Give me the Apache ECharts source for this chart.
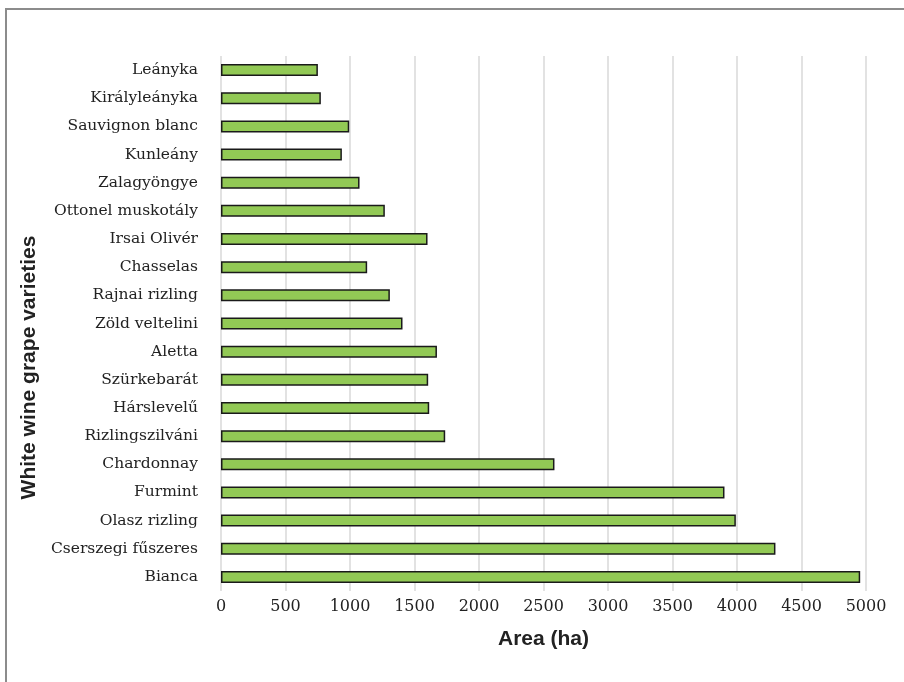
<!DOCTYPE html>
<html>
<head>
<meta charset="utf-8">
<script src="https://cdn.jsdelivr.net/npm/echarts@6/dist/echarts.min.js"></script>
<style>
  html, body { margin: 0; padding: 0; background: #fff; }
  #chart { width: 904px; height: 682px; }
</style>
</head>
<body>
<div id="chart"></div>
<script>
// varieties, top to bottom as in the figure
var varieties = ['Leányka', 'Királyleányka', 'Sauvignon blanc', 'Kunleány', 'Zalagyöngye',
  'Ottonel muskotály', 'Irsai Olivér', 'Chasselas', 'Rajnai rizling', 'Zöld veltelini',
  'Aletta', 'Szürkebarát', 'Hárslevelű', 'Rizlingszilváni', 'Chardonnay', 'Furmint',
  'Olasz rizling', 'Cserszegi fűszeres', 'Bianca'];
// area in ha
var areas = [751, 774, 994, 937, 1074, 1270, 1601, 1133, 1309, 1407,
  1674, 1606, 1614, 1738, 2585, 3903, 3991, 4298, 4955];
var xTicks = [0, 5000, 500]; // min, max, step

var chart = echarts.init(document.getElementById('chart'));
chart.setOption({
  animation: false,
  graphic: [{
    type: 'rect',
    shape: { x: 6, y: 9, width: 1000, height: 1000 },
    style: { fill: 'none', stroke: '#8c8c8c', lineWidth: 2 }
  }],
  grid: { left: 221, right: 38, top: 56, bottom: 91, containLabel: false },
  xAxis: {
    type: 'value',
    min: xTicks[0], max: xTicks[1], interval: xTicks[2],
    name: 'Area (ha)',
    nameLocation: 'middle',
    nameGap: 38,
    nameTextStyle: { fontFamily: 'Liberation Sans', fontWeight: 'bold', fontSize: 21, color: '#222' },
    axisLine: { show: false },
    axisTick: { show: false },
    axisLabel: { fontFamily: 'DejaVu Serif', fontSize: 16, color: '#222', margin: 8,
      formatter: function (v) { return String(v); } },
    splitLine: { show: true, lineStyle: { color: '#d9d9d9', width: 1.5 } }
  },
  yAxis: {
    type: 'category',
    inverse: true,
    data: varieties,
    name: 'White wine grape varieties',
    nameLocation: 'middle',
    nameGap: 172,
    nameTextStyle: { fontFamily: 'Liberation Sans', fontWeight: 'bold', fontSize: 21, color: '#222',
      padding: [0, 88, 0, 0] },
    axisLine: { show: false },
    axisTick: { show: false },
    axisLabel: { fontFamily: 'DejaVu Serif', fontSize: 15.5, color: '#222', margin: 23 }
  },
  series: [{
    type: 'bar',
    data: areas,
    barWidth: 12,
    itemStyle: { color: '#92c955', borderColor: '#1a1a1a', borderWidth: 1.5 }
  }]
});
</script>
</body>
</html>
